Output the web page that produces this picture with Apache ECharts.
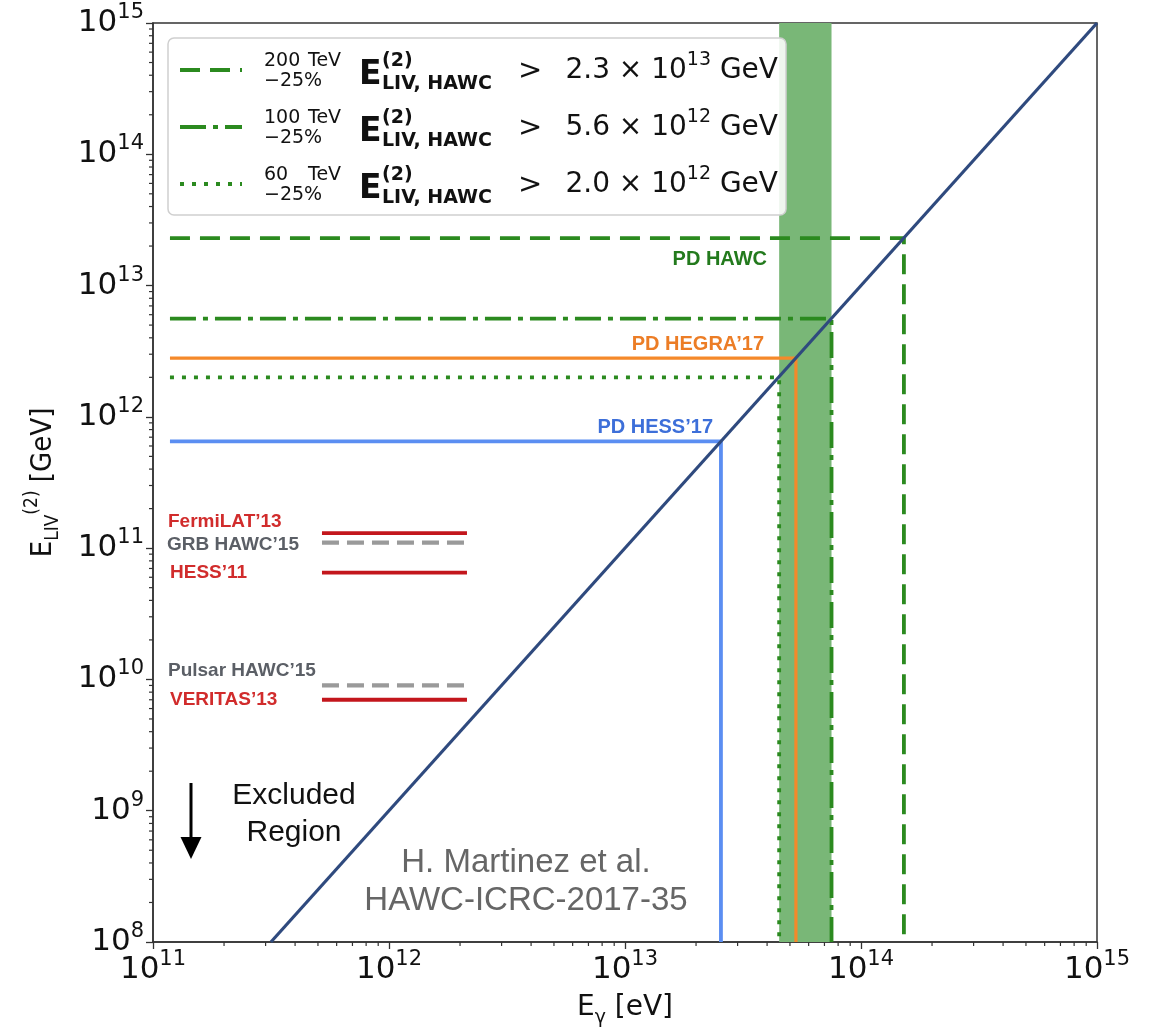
<!DOCTYPE html>
<html><head><meta charset="utf-8">
<script src="https://cdn.jsdelivr.net/npm/echarts@6/dist/echarts.min.js"></script>
<style>html,body{margin:0;padding:0;background:#fff}#c{width:1157px;height:1035px}</style>
</head><body><div id="c"></div>
<script>
// ---- data ----
const xRange = [1e11, 1e15];
const yRange = [1e8, 1e15];
const diagonal = [[3.16e11, 1e8], [1e15, 1e15]];
const hawc200 = [[1.18e11, 2.3e13], [1.52e14, 2.3e13], [1.52e14, 1e8]];
const hawc100 = [[1.18e11, 5.6e12], [7.5e13, 5.6e12], [7.5e13, 1e8]];
const hawc60 = [[1.18e11, 2.0e12], [4.5e13, 2.0e12], [4.5e13, 1e8]];
const hegra17 = [[1.18e11, 2.8e12], [5.3e13, 2.8e12], [5.3e13, 1e8]];
const hess17 = [[1.18e11, 6.5e11], [2.55e13, 6.5e11], [2.55e13, 1e8]];
const bandRange = [4.5e13, 7.5e13];
const fermi13 = [[5.2e11, 1.3e11], [2.14e12, 1.3e11]];
const grbHawc15 = [[5.2e11, 1.1e11], [2.14e12, 1.1e11]];
const hess11 = [[5.2e11, 6.5e10], [2.14e12, 6.5e10]];
const pulsarHawc15 = [[5.2e11, 9.0e9], [2.14e12, 9.0e9]];
const veritas13 = [[5.2e11, 7.0e9], [2.14e12, 7.0e9]];
const legendEnergies = ['200', '100', '60'];
const legendLimits = ['2.3', '5.6', '2.0'];
const legendExps = ['13', '12', '12'];

// minor tick positions (2..9 within each decade)
const xMinor = [], yMinor = [];
for (let d = 11; d < 15; d++) for (let k = 2; k <= 9; k++) xMinor.push([k * Math.pow(10, d), yRange[0]]);
for (let d = 8; d < 15; d++) for (let k = 2; k <= 9; k++) yMinor.push([xRange[0], k * Math.pow(10, d)]);

const GREEN = '#2b8a1f';
const DJ = 'DejaVu Sans';
const AR = 'Liberation Sans';

const chart = echarts.init(document.getElementById('c'));

function tickFmt(v) {
  const e = Math.round(Math.log10(v));
  return '{b|10}{s|' + e + '}';
}
const tickRich = {
  b: { fontFamily: DJ, fontSize: 31, lineHeight: 42, color: '#111' },
  s: { fontFamily: DJ, fontSize: 21, lineHeight: 22, verticalAlign: 'top', color: '#111' }
};

function line(name, data, color, width, type, z) {
  return {
    name, type: 'line', data, symbol: 'none', z: z || 3,
    lineStyle: { color, width, type: type || 'solid', cap: 'butt' },
    animation: false, clip: true
  };
}

const series = [
  {
    type: 'line', data: [], z: 1, animation: false,
    markArea: { silent: true, itemStyle: { color: '#79b777', opacity: 1 },
      data: [[{ xAxis: bandRange[0] }, { xAxis: bandRange[1] }]] }
  },
  line('diag', diagonal, '#2f4a7e', 3.2, 'solid', 4),
  line('hawc200', hawc200, GREEN, 3.8, [20, 10]),
  line('hawc100', hawc100, GREEN, 3.8, [26, 7, 5, 7]),
  line('hawc60', hawc60, GREEN, 3.8, [4, 8]),
  line('hegra17', hegra17, '#f5892a', 3.2),
  line('hess17', hess17, '#5b8ef2', 3.8),
  line('fermi13', fermi13, '#c3161c', 3.8),
  line('grbHawc15', grbHawc15, '#9a9a9a', 4.2, [17, 8]),
  line('hess11', hess11, '#c3161c', 3.8),
  line('pulsarHawc15', pulsarHawc15, '#9a9a9a', 4.2, [17, 8]),
  line('veritas13', veritas13, '#c3161c', 3.8),
  {
    type: 'custom', data: xMinor, z: 5, animation: false, silent: true, clip: false,
    renderItem(params, api) {
      const p = api.coord([api.value(0), api.value(1)]);
      return { type: 'line', shape: { x1: p[0], y1: p[1], x2: p[0], y2: p[1] + 4 }, style: { stroke: '#333', lineWidth: 1.2 } };
    }
  },
  {
    type: 'custom', data: yMinor, z: 5, animation: false, silent: true, clip: false,
    renderItem(params, api) {
      const p = api.coord([api.value(0), api.value(1)]);
      return { type: 'line', shape: { x1: p[0], y1: p[1], x2: p[0] - 4, y2: p[1] }, style: { stroke: '#333', lineWidth: 1.2 } };
    }
  }
];

// legend / annotation graphics
const g = [];
g.push({ type: 'rect', z: 50, shape: { x: 168, y: 38, width: 618, height: 177, r: 6 },
  style: { fill: 'rgba(255,255,255,0.88)', stroke: '#cfcfcf', lineWidth: 1.5 } });
const dashes = [[20, 10], [26, 7, 5, 7], [4, 8]];
for (let r = 0; r < 3; r++) {
  const y0 = 70 + 57 * r;
  g.push({ type: 'line', z: 51, shape: { x1: 180, y1: y0, x2: 242, y2: y0 },
    style: { stroke: GREEN, lineWidth: 4, lineDash: dashes[r] } });
  const t = (x, y, text, size, bold, color) => g.push({ type: 'text', z: 51, x, y,
    style: { text, font: (bold ? 'bold ' : '') + size + 'px "' + DJ + '"', fill: color || '#111', verticalAlign: 'middle', align: 'left' } });
  t(264, y0 - 9, legendEnergies[r], 19);
  t(308, y0 - 9, 'TeV', 19);
  t(264, y0 + 11, '\u221225%', 19);
  t(359, y0 + 5, 'E', 33, true);
  t(382, y0 - 9, '(2)', 19, true);
  t(382, y0 + 14, 'LIV, HAWC', 19, true);
  t(518, y0 + 1, '>', 29);
  g.push({ type: 'text', z: 51, x: 778, y: y0 + 1,
    style: {
      text: '{m|' + legendLimits[r] + ' \u00d7 10}{s|' + legendExps[r] + '}{m| GeV}',
      align: 'right', verticalAlign: 'middle', fill: '#111',
      rich: {
        m: { fontFamily: DJ, fontSize: 28, lineHeight: 40, fill: '#111' },
        s: { fontFamily: DJ, fontSize: 19, lineHeight: 22, verticalAlign: 'top', fill: '#111' }
      }
    } });
}
const ann = (x, y, text, size, color, bold, align) => g.push({ type: 'text', z: 20, x, y,
  style: { text, font: (bold ? 'bold ' : '') + size + 'px "' + AR + '"', fill: color, verticalAlign: 'middle', align: align || 'left' } });
ann(767, 259, 'PD HAWC', 20, '#237a1d', true, 'right');
ann(764, 344, 'PD HEGRA\u201917', 20, '#ec7d26', true, 'right');
ann(713, 427, 'PD HESS\u201917', 20, '#3d6fd9', true, 'right');
ann(168, 522, 'FermiLAT\u201913', 19, '#d12c2c', true);
ann(167, 545, 'GRB HAWC\u201915', 19, '#5b5f66', true);
ann(170, 573, 'HESS\u201911', 19, '#d12c2c', true);
ann(168, 671, 'Pulsar HAWC\u201915', 19, '#5b5f66', true);
ann(170, 700, 'VERITAS\u201913', 19, '#d12c2c', true);
ann(294, 796, 'Excluded', 30, '#111', false, 'center');
ann(294, 833, 'Region', 30, '#111', false, 'center');
ann(526, 863, 'H. Martinez et al.', 33, '#666', false, 'center');
ann(526, 901, 'HAWC-ICRC-2017-35', 33, '#666', false, 'center');
g.push({ type: 'line', z: 20, shape: { x1: 191, y1: 783, x2: 191, y2: 842 }, style: { stroke: '#000', lineWidth: 3 } });
g.push({ type: 'polygon', z: 20, shape: { points: [[180.5, 837], [201.5, 837], [191, 859]] }, style: { fill: '#000' } });

chart.setOption({
  animation: false,
  backgroundColor: '#fff',
  grid: { left: 153, right: 60, top: 23, bottom: 93, show: true, borderColor: '#333', borderWidth: 1.5, backgroundColor: 'transparent' },
  xAxis: {
    type: 'log', logBase: 10, min: xRange[0], max: xRange[1], splitNumber: 4,
    axisLine: { show: true, lineStyle: { color: '#333', width: 1.5 } },
    axisTick: { show: true, inside: false, length: 7, lineStyle: { color: '#333', width: 1.3 } },
    splitLine: { show: false },
    axisLabel: { formatter: tickFmt, rich: tickRich, margin: 7 },
    name: '{m|E}{sub|\u03b3}{m| [eV]}', nameLocation: 'middle', nameGap: 46,
    nameTextStyle: { rich: {
      m: { fontFamily: DJ, fontSize: 28, lineHeight: 40, color: '#111' },
      sub: { fontFamily: DJ, fontSize: 19, lineHeight: 20, verticalAlign: 'bottom', color: '#111' } } }
  },
  yAxis: {
    type: 'log', logBase: 10, min: yRange[0], max: yRange[1], splitNumber: 7,
    axisLine: { show: true, lineStyle: { color: '#333', width: 1.5 } },
    axisTick: { show: true, inside: false, length: 7, lineStyle: { color: '#333', width: 1.3 } },
    splitLine: { show: false },
    axisLabel: { formatter: tickFmt, rich: tickRich, margin: 9 },
    name: '{m|E}{sub|LIV}{sup|(2)}{m| [GeV]}', nameLocation: 'middle', nameRotate: 90, nameGap: 90,
    nameTextStyle: { rich: {
      m: { fontFamily: 'DejaVu Sans Condensed', fontSize: 29, lineHeight: 40, color: '#111' },
      sub: { fontFamily: 'DejaVu Sans Condensed', fontSize: 19, lineHeight: 20, verticalAlign: 'bottom', color: '#111' },
      sup: { fontFamily: 'DejaVu Sans Condensed', fontSize: 19, lineHeight: 20, verticalAlign: 'top', color: '#111' } } }
  },
  series,
  graphic: { elements: g }
});
</script></body></html>
